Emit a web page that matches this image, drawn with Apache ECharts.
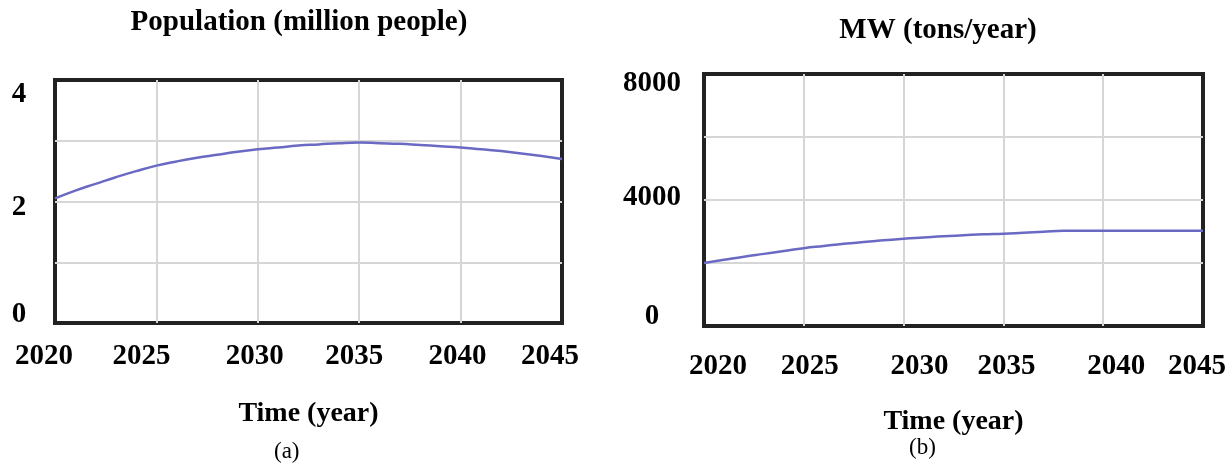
<!DOCTYPE html>
<html>
<head>
<meta charset="utf-8">
<script src="https://cdn.jsdelivr.net/npm/echarts@6/dist/echarts.min.js"></script>
<style>
  html, body { margin: 0; padding: 0; background: #fff; }
  #chart { width: 1231px; height: 468px; }
</style>
</head>
<body>
<div id="chart"></div>
<script>
// years on the time axis
const years = [2020, 2021, 2022, 2023, 2024, 2025, 2026, 2027, 2028, 2029, 2030,
  2031, 2032, 2033, 2034, 2035, 2036, 2037, 2038, 2039, 2040,
  2041, 2042, 2043, 2044, 2045];

// (a) population, million people
const population = [2.05, 2.18, 2.29, 2.40, 2.50, 2.59, 2.66, 2.72, 2.77, 2.82, 2.86,
  2.89, 2.92, 2.94, 2.96, 2.97, 2.96, 2.95, 2.93, 2.91, 2.89,
  2.86, 2.83, 2.79, 2.75, 2.70];

// (b) MW, tons/year
const mw = [2000, 2100, 2200, 2290, 2380, 2470, 2540, 2610, 2670, 2720, 2770,
  2810, 2850, 2880, 2910, 2930, 2960, 2990, 3020, 3020, 3020,
  3020, 3020, 3020, 3020, 3020];

// tick labels shown on the axes
const yearTicks = [2020, 2025, 2030, 2035, 2040, 2045];
const popTicks = [0, 2, 4];
const mwTicks = [0, 4000, 8000];

const titles = ['Population (million people)', 'MW (tons/year)'];
const xName = 'Time (year)';
const panelTags = ['(a)', '(b)'];

const serif = '"Liberation Serif", "Times New Roman", serif';

//labels in the source are nudged a bit off their ticks, done with rich padding
function tickLabel(ticks, key) {
    return function (v) {
        if (ticks.indexOf(v) < 0) return '';
        return '{' + key + v + '|' + v + '}';
    };
}
function richFor(prefix, ticks, pads) {
    let r = {};
    ticks.forEach((t, i) => {
        r[prefix + t] = {
            fontFamily: serif, fontWeight: 'bold', fontSize: 29, color: '#000',
            padding: pads[i]
        };
    });
    return r;
}

const chart = echarts.init(document.getElementById('chart'));

const xBase = {
    type: 'value',
    min: 2020,
    max: 2045,
    interval: 5,
    name: xName,
    nameLocation: 'middle',
    nameTextStyle: { fontFamily: serif, fontWeight: 'bold', fontSize: 28, color: '#000' },
    axisLine: { show: false },
    axisTick: { show: false },
    splitLine: { show: true, showMinLine: false, showMaxLine: false, lineStyle: { color: '#d6d6d6', width: 2 } }
};

const lineStyle = { color: '#6a6ac4', width: 2.5 };

chart.setOption({
    animation: false,
    title: [
        { text: titles[0], left: 294, top: 3, textAlign: 'center',
          textStyle: { fontFamily: serif, fontWeight: 'bold', fontSize: 29, color: '#000' } },
        { text: titles[1], left: 933, top: 11, textAlign: 'center',
          textStyle: { fontFamily: serif, fontWeight: 'bold', fontSize: 29, color: '#000' } }
    ],
    grid: [
        { left: 55, top: 80, width: 507, height: 243, outerBoundsMode: 'none', show: true, borderColor: '#222', borderWidth: 4, backgroundColor: 'transparent' },
        { left: 704, top: 74, width: 499, height: 252, outerBoundsMode: 'none', show: true, borderColor: '#222', borderWidth: 4, backgroundColor: 'transparent' }
    ],
    xAxis: [
        Object.assign({}, xBase, {
            gridIndex: 0,
            nameGap: 77,
            axisLabel: {
                margin: 19,
                formatter: tickLabel(yearTicks, 'a'),
                rich: richFor('a', yearTicks, [[0, 22, 0, 0], [0, 30, 0, 0], [0, 6, 0, 0], [0, 10, 0, 0], [0, 6, 0, 0], [0, 24, 0, 0]])
            }
        }),
        Object.assign({}, xBase, {
            gridIndex: 1,
            nameGap: 82,
            axisLabel: {
                margin: 26,
                formatter: tickLabel(yearTicks, 'b'),
                rich: richFor('b', yearTicks, [[0, 0, 0, 28], [0, 0, 0, 12], [0, 0, 0, 32], [0, 0, 0, 6], [0, 0, 0, 26], [0, 12, 0, 0]])
            }
        })
    ],
    yAxis: [
        {
            type: 'value', gridIndex: 0, min: 0, max: 4, interval: 1,
            axisLine: { show: false }, axisTick: { show: false },
            axisLabel: {
                margin: 36, align: 'center',
                formatter: tickLabel(popTicks, 'p'),
                rich: richFor('p', popTicks, [[0, 0, 16, 0], [12, 0, 0, 0], [30, 0, 0, 0]])
            },
            splitLine: { show: true, showMinLine: false, showMaxLine: false, lineStyle: { color: '#d6d6d6', width: 2 } }
        },
        {
            type: 'value', gridIndex: 1, min: 0, max: 8000, interval: 2000,
            axisLine: { show: false }, axisTick: { show: false },
            axisLabel: {
                margin: 52, align: 'center',
                formatter: tickLabel(mwTicks, 'm'),
                rich: richFor('m', mwTicks, [[0, 0, 18, 0], [0, 0, 4, 0], [20, 0, 0, 0]])
            },
            splitLine: { show: true, showMinLine: false, showMaxLine: false, lineStyle: { color: '#d6d6d6', width: 2 } }
        }
    ],
    graphic: [
        { type: 'text', left: 274, top: 440, style: { text: panelTags[0], font: '23px ' + serif, fill: '#000' } },
        { type: 'text', left: 909, top: 436, style: { text: panelTags[1], font: '23px ' + serif, fill: '#000' } }
    ],
    series: [
        {
            name: 'Population', type: 'line', xAxisIndex: 0, yAxisIndex: 0,
            symbol: 'none', smooth: true, lineStyle: lineStyle,
            data: years.map((y, i) => [y, population[i]])
        },
        {
            name: 'MW', type: 'line', xAxisIndex: 1, yAxisIndex: 1,
            symbol: 'none', smooth: true, lineStyle: lineStyle,
            data: years.map((y, i) => [y, mw[i]])
        }
    ]
});
</script>
</body>
</html>
